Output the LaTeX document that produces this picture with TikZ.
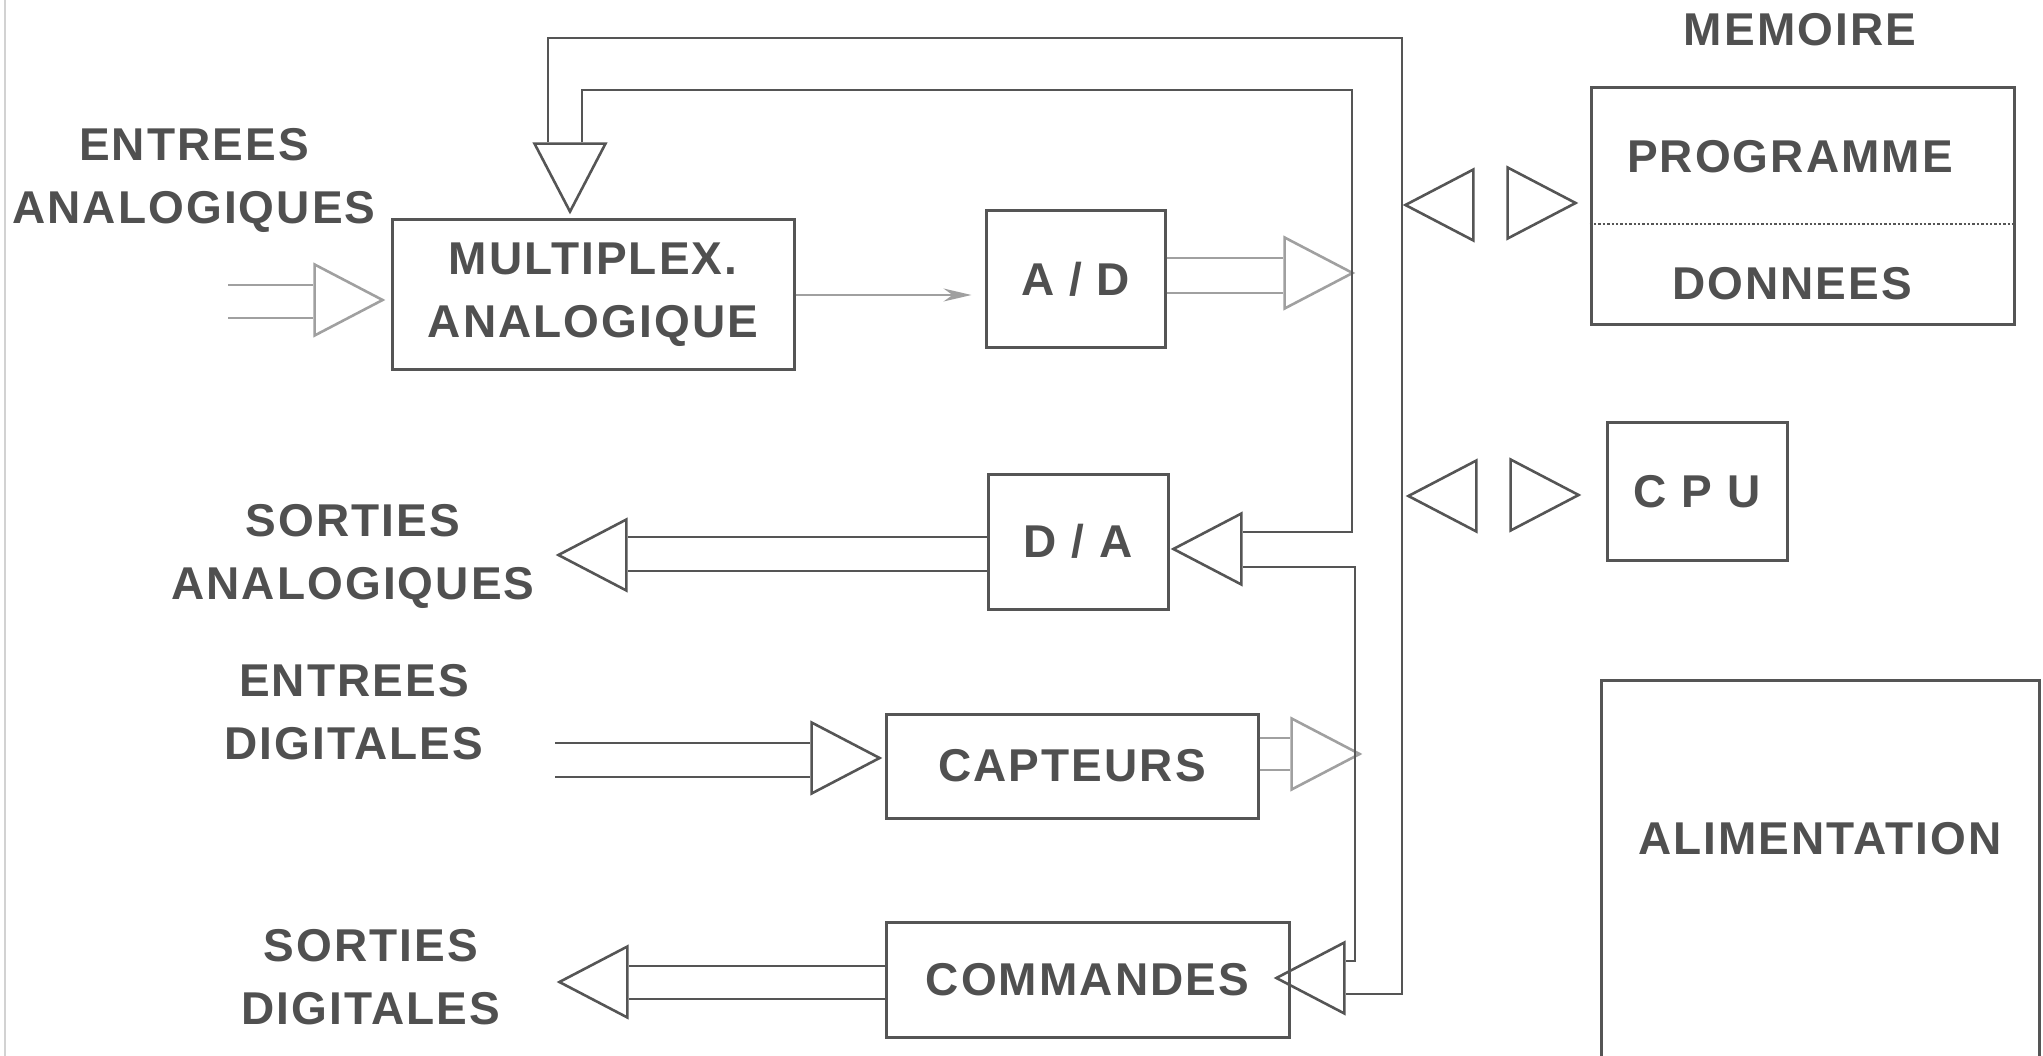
\documentclass[tikz,border=0pt]{standalone}
\usepackage{fontspec}
\setmainfont{Liberation Sans}[LetterSpace=4.5]
\usetikzlibrary{shapes.geometric,arrows.meta}
\definecolor{linec}{HTML}{555555}
\definecolor{txtc}{HTML}{505050}
\definecolor{faint}{HTML}{A0A0A0}
\begin{document}
\begin{tikzpicture}[x=1pt,y=-1pt,
  lbl/.style={text=txtc, font=\fontsize{46}{63}\selectfont\bfseries, align=center, inner sep=0pt},
  box/.style 2 args={draw=linec, line width=3pt, minimum width=#1, minimum height=#2,
     inner sep=0pt, text=txtc, font=\fontsize{46}{63}\selectfont\bfseries, align=center},
  tri/.style={isosceles triangle, isosceles triangle stretches, draw=linec, line width=2.6pt,
     inner sep=0pt, minimum width=71pt, minimum height=68pt, anchor=apex},
  bus/.style={draw=linec, line width=2.6pt},
  thin/.style={draw=faint, line width=2.2pt}
]
\useasboundingbox (0,0) rectangle (2043,1056);
\draw[gray!35, line width=1.5pt] (5,0) -- (5,1056);

% labels
\node[lbl] (eanal) at (194,180) {ENTREES\\ANALOGIQUES};
\node[lbl] (sanal) at (353,556) {SORTIES\\ANALOGIQUES};
\node[lbl] (edig) at (354,712) {ENTREES\\DIGITALES};
\node[lbl] (sdig) at (371,977) {SORTIES\\DIGITALES};
\node[lbl] (memlbl) at (1800,30) {MEMOIRE};

% boxes
\node[box={402pt}{150pt}] (mux) at (593,295) {MULTIPLEX.\\ANALOGIQUE};
\node[box={179pt}{137pt}] (ad) at (1075.5,279.5) {A / D};
\node[box={180pt}{135pt}] (da) at (1078,541.5) {D / A};
\node[box={372pt}{104pt}] (cap) at (1072,766) {CAPTEURS};
\node[box={403pt}{115pt}] (cmd) at (1087.5,979.5) {COMMANDES};
\node[box={423pt}{237pt}] (mem) at (1802.5,206.5) {};
\node[lbl] (prog) at (1790,157) {PROGRAMME};
\node[lbl] (don) at (1792,284) {DONNEES};
\draw[linec, line width=2.4pt, dotted] (mem.west |- 0,224) -- (mem.east |- 0,224);
\node[box={180pt}{137pt}] (cpu) at (1697,491.5) {C P U};
\node[lbl] (alim) at (1820,839) {ALIMENTATION};
\draw[draw=linec, line width=3pt] (1601,1060) -- (1601,680) -- (2039,680) -- (2039,1060);

% triangles
\node[tri, draw=faint] (tmuxin) at (386,300) {};
\node[tri, rotate=-90] (tmuxtop) at (570,215) {};
\node[tri, draw=faint] (tadout) at (1356,273) {};
\node[tri, rotate=180] (tmemL) at (1402,205) {};
\node[tri] (tmemR) at (1579,203) {};
\node[tri, rotate=180] (tcpuL) at (1405,496) {};
\node[tri] (tcpuR) at (1582,495) {};
\node[tri, rotate=180] (tdain) at (1170,549) {};
\node[tri, rotate=180] (tdaout) at (555,555) {};
\node[tri] (tcapin) at (883,758) {};
\node[tri, draw=faint] (tcapout) at (1363,754) {};
\node[tri, rotate=180] (tcmdin) at (1273,978) {};
\node[tri, rotate=180] (tsdig) at (556,982) {};

% analog inputs
\coordinate (ain1) at (228,285);
\coordinate (ain2) at (228,318);
\draw[thin] (ain1) -- (tmuxin.lower side |- ain1);
\draw[thin] (ain2) -- (tmuxin.lower side |- ain2);

% mux -> A/D
\draw[draw=faint, line width=1.8pt, -{Stealth[length=28pt,width=13pt]}, shorten >=13pt]
  (mux.east |- 0,295) -- (ad.west |- 0,295);

% A/D out
\draw[thin] (ad.east |- 0,258) -- (tadout.lower side |- 0,258);
\draw[thin] (ad.east |- 0,293) -- (tadout.lower side |- 0,293);

% bus
\draw[bus] (548,0 |- tmuxtop.lower side) -- (548,38) -- (1402,38) -- (1402,994) -- (tcmdin.lower side |- 0,994);
\draw[bus] (582,0 |- tmuxtop.lower side) -- (582,90) -- (1352,90) -- (1352,532) -- (tdain.lower side |- 0,532);
\draw[bus] (tdain.lower side |- 0,567) -- (1355,567) -- (1355,961) -- (tcmdin.lower side |- 0,961);

% D/A out
\draw[bus] (da.west |- 0,537) -- (tdaout.lower side |- 0,537);
\draw[bus] (da.west |- 0,571) -- (tdaout.lower side |- 0,571);

% digital inputs
\coordinate (din1) at (555,743);
\coordinate (din2) at (555,777);
\draw[bus] (din1) -- (tcapin.lower side |- din1);
\draw[bus] (din2) -- (tcapin.lower side |- din2);
\draw[thin] (cap.east |- 0,738) -- (tcapout.lower side |- 0,738);
\draw[thin] (cap.east |- 0,770) -- (tcapout.lower side |- 0,770);

% digital outputs
\draw[bus] (cmd.west |- 0,966) -- (tsdig.lower side |- 0,966);
\draw[bus] (cmd.west |- 0,999) -- (tsdig.lower side |- 0,999);
\end{tikzpicture}
\end{document}
